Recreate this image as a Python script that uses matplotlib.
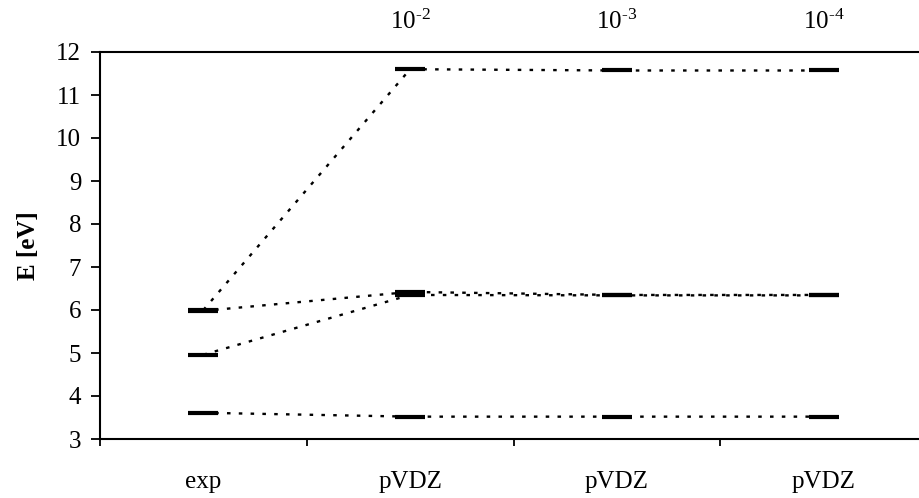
import matplotlib
matplotlib.use("Agg")
import matplotlib.pyplot as plt

plt.rcParams['font.family'] = ['Liberation Serif', 'DejaVu Serif']
plt.rcParams['mathtext.fontset'] = 'custom'
plt.rcParams['mathtext.rm'] = 'Liberation Serif'
plt.rcParams['mathtext.it'] = 'Liberation Serif'

# columns: experiment and pVDZ results for three thresholds
col_labels = ['exp', 'pVDZ', 'pVDZ', 'pVDZ']
thresholds = ['', '10$^{\\mathregular{\u20102}}$', '10$^{\\mathregular{\u20103}}$',
              '10$^{\\mathregular{\u20104}}$']

# excitation energies (eV) of the states, one list per state
state1 = [3.61, 3.52, 3.52, 3.52]
state2 = [4.96, 6.35, 6.34, 6.34]
state3 = [5.98, 6.42, 6.35, 6.35]
state4 = [6.00, 11.60, 11.57, 11.57]
states = [state1, state2, state3, state4]

fig = plt.figure(figsize=(9.19, 4.98), dpi=100)
ax = fig.add_axes([100/919, 59/498, 827/919, 387/498])

xs = [i + 0.5 for i in range(len(col_labels))]
for s in states:
    ax.plot(xs, s, color='black', lw=1.7, ls=(0, (1.5, 3.5)),
            marker='_', ms=21.6, mew=3.0, mec='black', zorder=3)

fs = 18
ax.set_xlim(0, 4)
ax.set_ylim(3, 12)
ax.set_yticks(range(3, 13))
ax.tick_params(axis='y', direction='out', length=6.5, width=1.3, pad=7, labelsize=fs)

ax.set_xticks(range(0, 5))
ax.set_xticklabels([])
ax.tick_params(axis='x', which='major', direction='out', length=5, width=1.3)
ax.set_xticks(xs, minor=True)
ax.set_xticklabels(col_labels, minor=True)
ax.tick_params(axis='x', which='minor', length=0, pad=23, labelsize=fs)

for sp in ax.spines.values():
    sp.set_linewidth(1.5)
ax.spines['right'].set_visible(False)

top = ax.secondary_xaxis('top')
top.set_xticks(xs[1:])
top.set_xticklabels(thresholds[1:])
top.tick_params(length=0, pad=13, labelsize=fs)
top.spines['top'].set_visible(False)

ax.set_ylabel('E [eV]', fontsize=fs, fontweight='bold', labelpad=12)

fig.savefig('out.png', dpi=100)
